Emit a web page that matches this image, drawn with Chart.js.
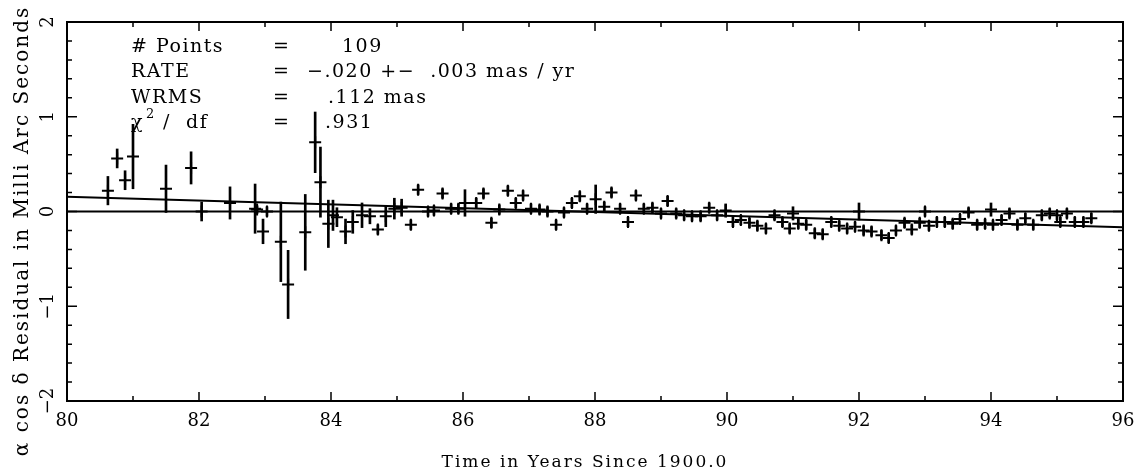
<!DOCTYPE html>
<html><head><meta charset="utf-8">
<script src="https://cdn.jsdelivr.net/npm/chart.js@4/dist/chart.umd.min.js"></script>
<style>html,body{margin:0;padding:0;background:#fff}canvas{display:block}</style>
</head><body>
<canvas id="c" width="1145" height="475"></canvas>
<script>
// ---- data ----
const years = [80.62,80.76,80.88,81.00,81.50,81.88,82.04,82.47,82.85,82.88,82.97,83.03,83.24,83.35,83.61,83.76,83.84,83.96,84.03,84.09,
84.22,84.33,84.47,84.59,84.71,84.83,84.96,85.07,85.21,85.32,85.47,85.56,85.69,85.82,85.93,86.03,86.20,86.31,86.43,86.55,
86.68,86.80,86.91,87.03,87.16,87.28,87.41,87.53,87.65,87.77,87.88,88.01,88.14,88.25,88.38,88.50,88.62,88.74,88.87,89.00,
89.10,89.23,89.35,89.47,89.60,89.73,89.85,89.98,90.09,90.21,90.34,90.46,90.59,90.72,90.84,90.95,91.00,91.08,91.20,91.33,
91.45,91.58,91.70,91.82,91.94,92.00,92.07,92.19,92.34,92.45,92.56,92.69,92.80,92.92,93.00,93.06,93.18,93.30,93.42,93.53,
93.66,93.79,93.91,94.00,94.03,94.16,94.28,94.40,94.52,94.64,94.77,94.89,95.00,95.05,95.15,95.27,95.40,95.52];
const residuals = [0.22,0.56,0.33,0.58,0.24,0.46,0.00,0.09,0.03,0.02,-0.21,0.00,-0.32,-0.77,-0.22,0.73,0.31,-0.13,-0.04,-0.06,
-0.21,-0.11,-0.04,-0.05,-0.19,-0.05,0.03,0.04,-0.14,0.23,0.00,0.01,0.19,0.03,0.03,0.09,0.09,0.19,-0.12,0.02,
0.22,0.09,0.17,0.03,0.02,0.00,-0.14,-0.01,0.09,0.16,0.03,0.13,0.05,0.20,0.03,-0.11,0.17,0.03,0.04,-0.02,
0.11,-0.02,-0.04,-0.05,-0.05,0.04,-0.04,0.01,-0.11,-0.09,-0.12,-0.15,-0.18,-0.04,-0.11,-0.18,-0.02,-0.13,-0.14,-0.23,
-0.24,-0.11,-0.15,-0.18,-0.16,0.00,-0.20,-0.21,-0.25,-0.28,-0.20,-0.12,-0.19,-0.12,0.00,-0.15,-0.11,-0.11,-0.13,-0.08,
-0.01,-0.14,-0.13,0.02,-0.14,-0.09,-0.02,-0.14,-0.07,-0.14,-0.04,-0.02,-0.04,-0.11,-0.02,-0.11,-0.11,-0.07];
const sigmas = [0.15,0.10,0.10,0.34,0.25,0.17,0.10,0.17,0.26,0.04,0.13,0.05,0.42,0.36,0.40,0.32,0.37,0.25,0.16,0.10,
0.13,0.12,0.13,0.08,0.05,0.11,0.11,0.09,0.05,0.05,0.05,0.05,0.05,0.05,0.05,0.14,0.05,0.05,0.05,0.05,
0.05,0.05,0.05,0.05,0.05,0.05,0.05,0.05,0.05,0.05,0.05,0.15,0.05,0.05,0.05,0.05,0.05,0.05,0.05,0.05,
0.05,0.05,0.05,0.05,0.05,0.05,0.05,0.07,0.05,0.05,0.05,0.05,0.05,0.05,0.05,0.05,0.07,0.05,0.05,0.05,
0.05,0.05,0.05,0.05,0.05,0.09,0.05,0.05,0.05,0.05,0.05,0.05,0.05,0.05,0.05,0.05,0.05,0.05,0.05,0.05,
0.05,0.05,0.05,0.07,0.05,0.05,0.05,0.05,0.05,0.05,0.05,0.05,0.05,0.05,0.05,0.05,0.05,0.05];
const fitYears = [80, 96];
const fitValues = [0.155, -0.165];
const zeroYears = [80, 96];
const zeroValues = [0, 0];
const xTickLabels = ['80','82','84','86','88','90','92','94','96'];
const yTickValues = [-2,-1,0,1,2];
const yTickLabels = ['\u22122','\u22121','0','1','2'];
const statNames = ['# Points','RATE','WRMS','\u03c7'];
const statValues = ['109','\u2212.020 +\u2212  .003 mas / yr','.112 mas','.931'];
const xTitle = 'Time in Years Since 1900.0';
const yTitle = '\u03b1 cos \u03b4 Residual in Milli Arc Seconds';

// ---- build datasets ----
const pts = years.map((x,i)=>({x, y: residuals[i]}));
const bars = years.map((x,i)=>({x, y: [residuals[i]-sigmas[i], residuals[i]+sigmas[i]]}));
const fit = fitYears.map((x,i)=>({x, y: fitValues[i]}));
const zero = zeroYears.map((x,i)=>({x, y: zeroValues[i]}));

const FONT = "'DejaVu Serif', serif";

const framePlugin = {
  id: 'frame',
  afterDraw(chart) {
    const {ctx, chartArea: a, scales: {x, y}} = chart;
    ctx.save();
    ctx.strokeStyle = '#000';
    ctx.lineWidth = 2;
    ctx.strokeRect(a.left, a.top, a.right - a.left, a.bottom - a.top);
    ctx.lineWidth = 1.5;
    ctx.beginPath();
    for (let v = x.min; v <= x.max + 1e-9; v += 1) {
      const px = x.getPixelForValue(v);
      const L = (Math.round(v) % 2 === 0) ? 9 : 5;
      ctx.moveTo(px, a.bottom); ctx.lineTo(px, a.bottom - L);
      ctx.moveTo(px, a.top); ctx.lineTo(px, a.top + L);
    }
    for (let k = -10; k <= 10; k++) {
      const v = k * 0.2;
      const py = y.getPixelForValue(v);
      const L = (k % 5 === 0) ? 10 : 5;
      ctx.moveTo(a.left, py); ctx.lineTo(a.left + L, py);
      ctx.moveTo(a.right, py); ctx.lineTo(a.right - L, py);
    }
    ctx.stroke();

    ctx.fillStyle = '#000';
    ctx.font = "18px " + FONT;
    ctx.textAlign = 'center';
    ctx.textBaseline = 'alphabetic';
    yTickValues.forEach((v, i) => {
      const py = y.getPixelForValue(v);
      ctx.save();
      ctx.translate(53, py);
      ctx.rotate(-Math.PI / 2);
      ctx.fillText(yTickLabels[i], 0, 0);
      ctx.restore();
    });
    ctx.save();
    ctx.font = "20px " + FONT;
    ctx.letterSpacing = '2px';
    ctx.translate(28, 231);
    ctx.rotate(-Math.PI / 2);
    ctx.textAlign = 'center';
    ctx.fillText(yTitle, 0, 0);
    ctx.restore();
    ctx.save();
    ctx.font = "17px " + FONT;
    ctx.letterSpacing = '2px';
    ctx.textAlign = 'center';
    ctx.fillText(xTitle, 585, 467);
    ctx.restore();
    ctx.save();
    ctx.font = "19px " + FONT;
    ctx.letterSpacing = '1.5px';
    ctx.textAlign = 'left';
    const base = [52, 77, 103, 128];
    const valX = [342, 307, 328, 325];
    statNames.forEach((n, i) => {
      ctx.fillText(n, 131, base[i]);
      ctx.fillText('=', 273, base[i]);
      ctx.fillText(statValues[i], valX[i], base[i]);
    });
    ctx.fillText('/  df', 163, base[3]);
    ctx.font = "13px " + FONT;
    ctx.fillText('2', 146, base[3] - 10);
    ctx.restore();
    ctx.restore();
  }
};

new Chart(document.getElementById('c'), {
  type: 'scatter',
  data: {
    datasets: [
      { type: 'bar', data: bars, backgroundColor: '#000', borderWidth: 0, barThickness: 2, grouped: false, order: 3 },
      { type: 'scatter', data: pts, pointStyle: 'cross', pointRadius: 6, pointBorderWidth: 2,
        borderColor: '#000', backgroundColor: '#000', order: 2 },
      { type: 'line', data: fit, borderColor: '#000', borderWidth: 2, pointRadius: 0, fill: false, order: 1 },
      { type: 'line', data: zero, borderColor: '#000', borderWidth: 2, pointRadius: 0, fill: false, order: 1 }
    ]
  },
  options: {
    responsive: false,
    animation: false,
    devicePixelRatio: 1,
    layout: { padding: { top: 22, right: 22, left: 0, bottom: 0 } },
    plugins: { legend: { display: false }, tooltip: { enabled: false } },
    scales: {
      x: {
        type: 'linear', min: 80, max: 96, offset: false,
        grid: { display: false, drawTicks: false },
        border: { display: false },
        ticks: { stepSize: 2, padding: 10, color: '#000', font: { family: FONT, size: 18 },
          callback: (v) => xTickLabels[Math.round((v - 80) / 2)] ?? '' },
        afterFit: (s) => { s.height = 74; }
      },
      y: {
        type: 'linear', min: -2, max: 2,
        grid: { display: false, drawTicks: false },
        border: { display: false },
        ticks: { display: false, stepSize: 1 },
        afterFit: (s) => { s.width = 67; }
      }
    }
  },
  plugins: [framePlugin]
});
</script>
</body></html>
